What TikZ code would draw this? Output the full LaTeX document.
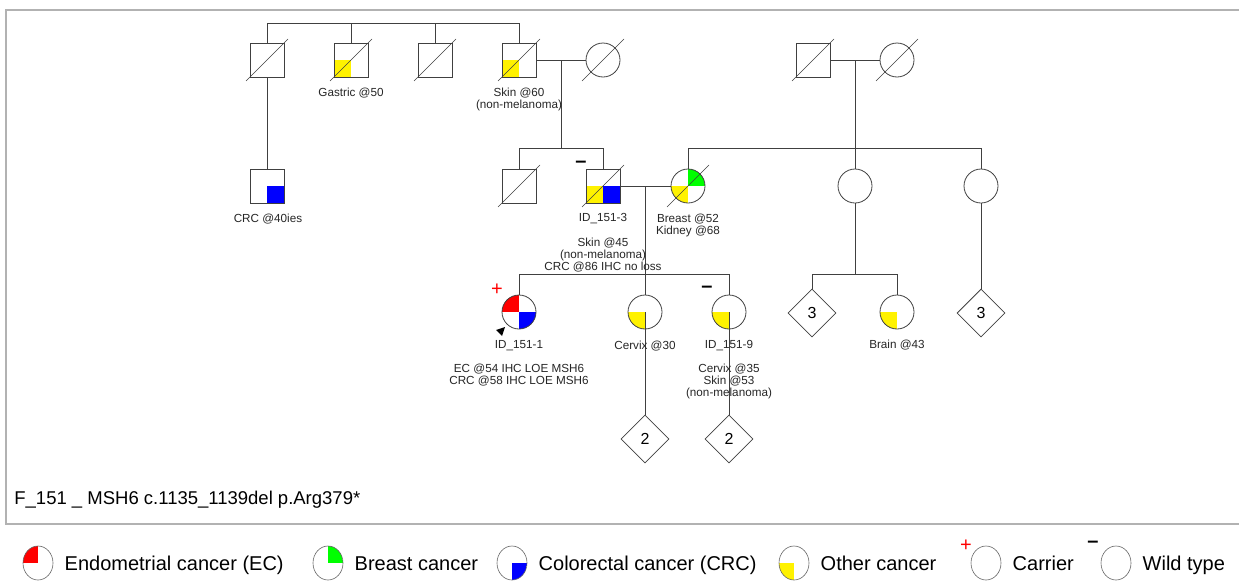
\documentclass[tikz,border=0pt]{standalone}
\usepackage{fontspec}
\setmainfont{Liberation Sans}
\usetikzlibrary{positioning, shapes.geometric, calc}

\begin{document}
\begin{tikzpicture}[x=1pt,y=-1pt,node distance=84pt,thick,color=black!75,
    male/.style={rectangle,draw,minimum size=34pt,inner sep=0pt},
    female/.style={circle,draw,minimum size=34pt,inner sep=0pt},
    group/.style={diamond,draw,minimum size=48pt,inner sep=0pt,text=black,font=\fontsize{16}{16}\selectfont},
    cancer/.style={path picture={\foreach \q/\k in {#1} \fill[\k] (path picture bounding box.center) rectangle (path picture bounding box.\q);}},
    info/.style={font=\fontsize{11.7}{12}\selectfont,align=center,inner sep=0pt,text=black!85},
    sign/.style={inner sep=0pt,font=\fontsize{20}{20}\selectfont},
    legsym/.style={ellipse,draw=black!60,line width=0.6pt,minimum width=30pt,minimum height=34pt,inner sep=0pt},
    legtext/.style={inner sep=0pt,text height=14.4pt,text depth=0pt,text=black,font=\fontsize{20}{22}\selectfont}]

\useasboundingbox (0,0) rectangle (1239,584);
\draw[black!30, line width=1.5pt] (1239,10) -- (6,10) -- (6,524) -- (1239,524);

% generation I
\node[male]                               (G1A) at (267,60) {};
\node[male, cancer={south west/yellow}]   (G1B) [right of=G1A] {};
\node[male]                               (G1C) [right of=G1B] {};
\node[male, cancer={south west/yellow}]   (G1D) [right of=G1C] {};
\node[female]                             (G1E) [right of=G1D] {};
\node[male]                               (G1F) at (813,60) {};
\node[female]                             (G1G) at (897,60) {};

% generation II
\node[male, cancer={south east/blue}]     (G2A) at (267,186) {};
\node[male]                               (G2B) at (519,186) {};
\node[male, cancer={south west/yellow, south east/blue}]   (G2C) at (603,186) {};
\node[female, cancer={north east/green, south west/yellow}] (G2D) at (688,186) {};
\node[female]                             (G2E) at (855,186) {};
\node[female]                             (G2F) at (981,186) {};

% generation III
\node[female, cancer={north west/red, south east/blue}] (G3A) at (519,312) {};
\node[female, cancer={south west/yellow}] (G3B) at (645,312) {};
\node[female, cancer={south west/yellow}] (G3C) at (729,312) {};
\node[group]                              (G3D) at (812,313) {3};
\node[female, cancer={south west/yellow}] (G3E) at (897,312) {};
\node[group]                              (G3F) at (981,313) {3};

% generation IV
\node[group] (G4A) at (645,439) {2};
\node[group] (G4B) at (729,439) {2};

\coordinate (BAR1) at (0,23);
\coordinate (BAR2) at (0,148);
\coordinate (BAR3) at (0,274);
\coordinate (M1) at ($(G1D.east)!0.5!(G1E.west)$);
\coordinate (M2) at ($(G1F.east)!0.5!(G1G.west)$);
\coordinate (M3) at ($(G2C.east)!0.5!(G2D.west)$);

\draw (G1A.north) -- (G1A.north |- BAR1) -- (G1D.north |- BAR1) -- (G1D.north);
\draw (G1B.north) -- (G1B.north |- BAR1);
\draw (G1C.north) -- (G1C.north |- BAR1);
\draw (G1A) -- (G2A);
\draw (G1D) -- (G1E);
\draw (M1) -- (M1 |- BAR2);
\draw (G2B.north) -- (G2B.north |- BAR2) -- (G2C.north |- BAR2) -- (G2C.north);
\draw (G1F) -- (G1G);
\draw (M2) -- (G2E);
\draw (G2D.north) -- (G2D.north |- BAR2) -- (G2F.north |- BAR2) -- (G2F.north);

\draw (G2C) -- (G2D);
\draw (M3) -- (M3 |- BAR3);
\draw (G3A.north) -- (G3A.north |- BAR3) -- (G3C.north |- BAR3) -- (G3C.north);
\draw (G3B.north) -- (G3B.north |- BAR3);
\draw (G2E) -- (G2E |- BAR3);
\draw (G3D.north) -- (G3D.north |- BAR3) -- (G3E.north |- BAR3) -- (G3E.north);
\draw (G2F) -- (G3F);
\draw (G3B.center) -- (G4A);
\draw (G3C.center) -- (G4B);

% deceased
\foreach \n in {G1A,G1B,G1C,G1D,G1E,G1F,G1G,G2B,G2C,G2D}
  \draw[thin] ([shift={(-21pt,-21pt)}]\n.center) -- ([shift={(21pt,21pt)}]\n.center);

% proband and test results
\fill[black] ([shift={(-14pt,-15pt)}]G3A.center) -- ([shift={(-23pt,-18pt)}]G3A.center) -- ([shift={(-17pt,-24pt)}]G3A.center) -- cycle;
\node[sign, text=red]   (PLUS1)  at (497,290) {+};
\node[sign, text=black] (MINUS1) at (581,164) {\textbf{--}};
\node[sign, text=black] (MINUS2) at (707,289) {\textbf{--}};

% labels
\node[info] (L1)  at (351,93)  {Gastric @50};
\node[info] (L2)  at (519,99)  {Skin @60\\(non-melanoma)};
\node[info] (L3)  at (268,219) {CRC @40ies};
\node[info] (L4)  at (603,219) {ID\_151-3};
\node[info] (L5)  at (603,255) {Skin @45\\(non-melanoma)\\CRC @86 IHC no loss};
\node[info] (L6)  at (688,225) {Breast @52\\Kidney @68};
\node[info] (L7)  at (519,346) {ID\_151-1};
\node[info] (L8)  at (519,375) {EC @54 IHC LOE MSH6\\CRC @58 IHC LOE MSH6};
\node[info] (L9)  at (645,346) {Cervix @30};
\node[info] (L10) at (729,346) {ID\_151-9};
\node[info] (L11) at (729,381) {Cervix @35\\Skin @53\\(non-melanoma)};
\node[info] (L12) at (897,345) {Brain @43};

\node[anchor=west, inner sep=0pt, text=black, font=\fontsize{18.5}{22}\selectfont] (TITLE) at (14,500) {F\_151 \_ MSH6 c.1135\_1139del p.Arg379*};

% legend
\node[legsym, cancer={north west/red}]   (K1) at (38,563) {};
\node[legtext] (T1) [right=11pt of K1] {Endometrial cancer (EC)};
\node[legsym, cancer={north east/green}] (K2) at (328,563) {};
\node[legtext] (T2) [right=11pt of K2] {Breast cancer};
\node[legsym, cancer={south east/blue}]  (K3) at (512,563) {};
\node[legtext] (T3) [right=11pt of K3] {Colorectal cancer (CRC)};
\node[legsym, cancer={south west/yellow}] (K4) at (794,563) {};
\node[legtext] (T4) [right=11pt of K4] {Other cancer};
\node[legsym] (K5) at (986,563) {};
\node[legtext] (T5) [right=11pt of K5] {Carrier};
\node[sign, text=red] (PLUS2) at (966,546) {+};
\node[legsym] (K6) at (1116,563) {};
\node[legtext] (T6) [right=11pt of K6] {Wild type};
\node[sign, text=black] (MINUS3) at (1093,544) {\textbf{--}};

\end{tikzpicture}
\end{document}
